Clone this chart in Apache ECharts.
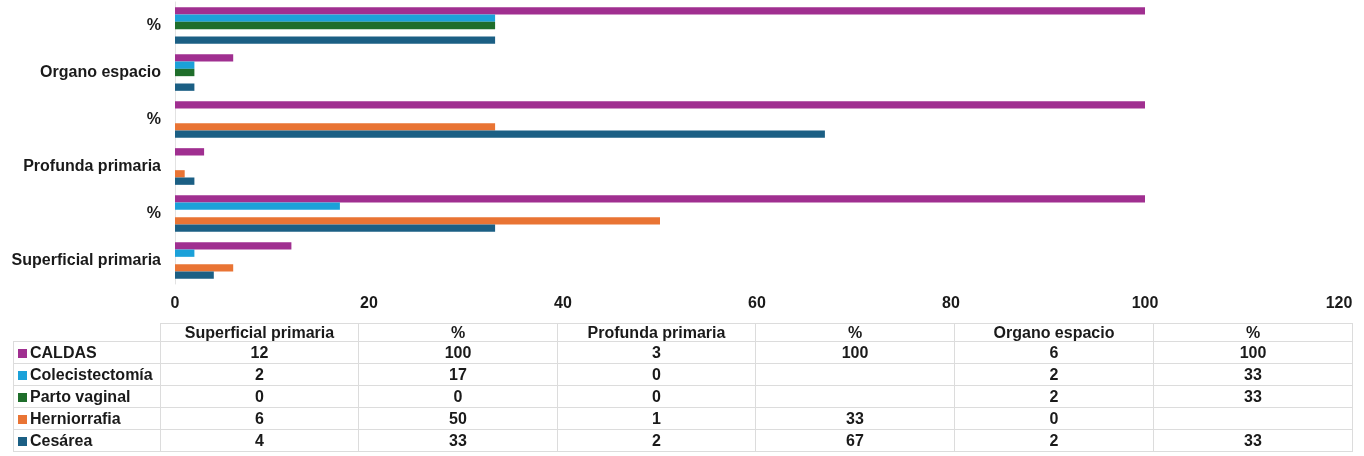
<!DOCTYPE html>
<html>
<head>
<meta charset="utf-8">
<script src="https://cdn.jsdelivr.net/npm/echarts@6/dist/echarts.min.js"></script>
<style>
  html, body { margin: 0; padding: 0; background: #fff; }
  #chart { position: absolute; left: 0; top: 0; width: 1364px; height: 456px; }
  #table {
    position: absolute; left: 13px; top: 323px;
    border-collapse: collapse; table-layout: fixed;
    font-family: "Liberation Sans", Arial, sans-serif; font-weight: bold;
    font-size: 16px; color: #1a1a1a;
  }
  #table td { border: 1px solid #dcdcdc; padding: 0; text-align: center; height: 21px; line-height: 21px; white-space: nowrap; overflow: hidden; }
  #table tr.head td { height: 17px; line-height: 17px; }
  #table td.corner { border: none; }
  #table td.name { text-align: left; padding-left: 4px; }
  .sw { display: inline-block; width: 9px; height: 9px; margin-right: 3px; vertical-align: 0px; }
</style>
</head>
<body>
<div id="chart"></div>
<table id="table"></table>
<script>
// Categories, bottom to top on the chart, left to right in the table
const categories = ['Superficial primaria', '%', 'Profunda primaria', '%', 'Organo espacio', '%'];

// Values per procedure, in category order (null = no value)
const caldas          = [12, 100, 3, 100, 6, 100];
const colecistectomia = [2, 17, 0, null, 2, 33];
const partoVaginal    = [0, 0, 0, null, 2, 33];
const herniorrafia    = [6, 50, 1, 33, 0, null];
const cesarea         = [4, 33, 2, 67, 2, 33];

const seriesNames  = ['CALDAS', 'Colecistectomía', 'Parto vaginal', 'Herniorrafia', 'Cesárea'];
const seriesValues = [caldas, colecistectomia, partoVaginal, herniorrafia, cesarea];
const seriesColors = ['#A02F90', '#1BA1D9', '#1F6E2B', '#E97434', '#1B5F84'];

const xTicks = { min: 0, max: 120, interval: 20 };

const chart = echarts.init(document.getElementById('chart'), null, { renderer: 'canvas' });

// First series sits at the top of each band, so CALDAS leads
const series = seriesNames.map((name, i) => ({
  name: name,
  type: 'bar',
  data: seriesValues[i],
  itemStyle: { color: seriesColors[i] },
  barGap: '0%',
  barCategoryGap: '22%',
  silent: true
}));

const labelFont = {
  fontFamily: 'Liberation Sans, Arial, sans-serif',
  fontWeight: 'bold', color: '#1a1a1a', fontSize: 16
};

chart.setOption({
  animation: false,
  grid: { left: 175, right: 25, top: 2, bottom: 172, containLabel: false },
  xAxis: {
    type: 'value',
    min: xTicks.min, max: xTicks.max, interval: xTicks.interval,
    splitLine: { show: false },
    axisLine: { show: false },
    axisTick: { show: false },
    axisLabel: Object.assign({ margin: 12 }, labelFont)
  },
  yAxis: {
    type: 'category',
    data: categories,
    axisLine: { show: true, lineStyle: { color: '#e2e2e2', width: 1 } },
    axisTick: { show: false },
    axisLabel: Object.assign({ margin: 14 }, labelFont)
  },
  series: series
});

// Data table under the chart, built from the same arrays
const colWidths = [147, 198, 199, 198, 199, 199, 199];
const table = document.getElementById('table');
const colgroup = document.createElement('colgroup');
colWidths.forEach(w => {
  const c = document.createElement('col');
  c.style.width = w + 'px';
  colgroup.appendChild(c);
});
table.appendChild(colgroup);

const head = document.createElement('tr');
head.className = 'head';
const corner = document.createElement('td');
corner.className = 'corner';
head.appendChild(corner);
categories.forEach(cat => {
  const td = document.createElement('td');
  td.textContent = cat;
  head.appendChild(td);
});
table.appendChild(head);

seriesNames.forEach((name, i) => {
  const tr = document.createElement('tr');
  const nameCell = document.createElement('td');
  nameCell.className = 'name';
  const sw = document.createElement('span');
  sw.className = 'sw';
  sw.style.background = seriesColors[i];
  nameCell.appendChild(sw);
  nameCell.appendChild(document.createTextNode(name));
  tr.appendChild(nameCell);
  seriesValues[i].forEach(v => {
    const td = document.createElement('td');
    td.textContent = v === null ? '' : String(v);
    tr.appendChild(td);
  });
  table.appendChild(tr);
});
</script>
</body>
</html>
